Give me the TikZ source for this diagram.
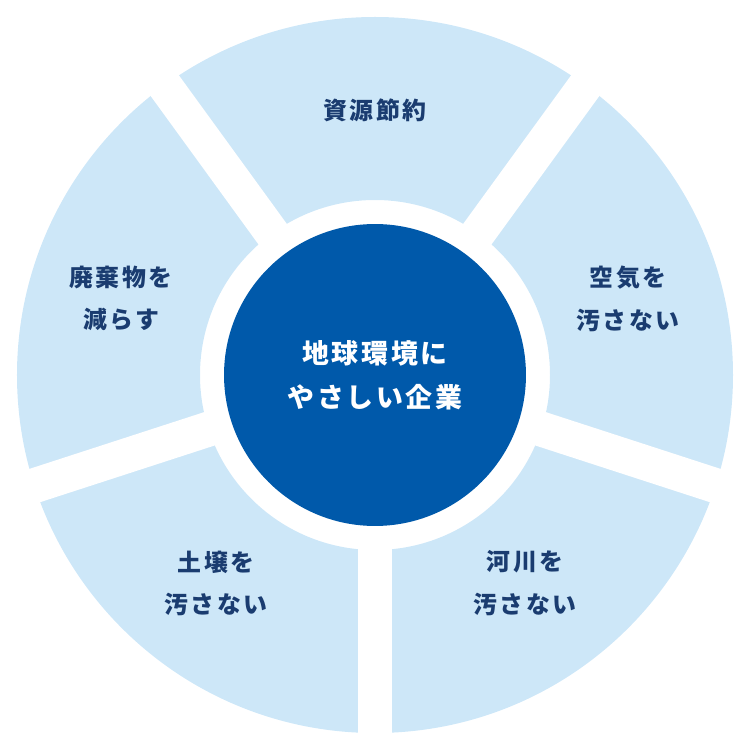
\documentclass[tikz,border=0pt]{standalone}
\usepackage{fontspec}
\newfontfamily\cjk[LetterSpace=10]{Noto Sans CJK JP}
\usepackage{tikz}
\usetikzlibrary{positioning}
\definecolor{segcolor}{RGB}{205,231,248}
\definecolor{hubcolor}{RGB}{0,89,170}
\definecolor{labelcolor}{RGB}{26,60,112}

\begin{document}
\begin{tikzpicture}[x=0.02cm, y=0.02cm,
    seglabel/.style={align=center, text=labelcolor, font=\cjk\bfseries\fontsize{13.6}{24.4}\selectfont},
    hub/.style={circle, fill=hubcolor, inner sep=0pt, minimum size=6.04cm, align=center, text=white, font=\cjk\bfseries\fontsize{15.3}{25}\selectfont},
    gap/.style={white, line width=0.7cm}
]
    \useasboundingbox (-375,-375) rectangle (375,375);

    % ring and the white gaps between its parts
    \fill[segcolor, even odd rule] (0,0) circle[radius=358] (0,0) circle[radius=175];
    \foreach \a in {126,54,-18,-90,198}
        \draw[gap] (0,0) -- (\a:366);

    \node[hub] (core) at (0,0) {地球環境に\\やさしい企業};

    \node[seglabel] (saving) at (0,265) {資源節約};
    \node[seglabel] (air) at (253,76.5) {空気を\\汚さない};
    \node[seglabel] (river) at (150,-208.5) {河川を\\汚さない};
    \node[seglabel] (soil) at (-159,-208.5) {土壌を\\汚さない};
    \node[seglabel] (waste) at (-254,76.5) {廃棄物を\\減らす};
\end{tikzpicture}
\end{document}
